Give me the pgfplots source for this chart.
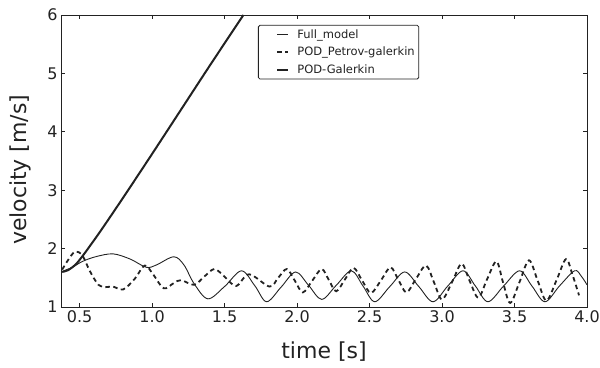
\documentclass[border=0pt]{standalone}
\usepackage{pgfplots}
\pgfplotsset{compat=1.18}
\usepackage{fontspec}
\setmainfont{DejaVu Sans}
\definecolor{ink}{HTML}{222222}
\begin{document}
\begin{tikzpicture}
\useasboundingbox (-61pt,-60pt) rectangle (539pt,307pt);
\begin{axis}[
  at={(0,0)}, anchor=south west,
  width=526pt, height=292pt, scale only axis,
  xmin=0.372, xmax=4.0, ymin=1, ymax=6,
  xtick={0.5,1.0,1.5,2.0,2.5,3.0,3.5,4.0},
  ytick={1,2,3,4,5,6},
  tick pos=both, tick align=inside,
  major tick length=4pt,
  axis line style={ink, line width=0.8pt},
  tick style={ink, line width=0.6pt},
  /pgf/number format/assume math mode=true,
  xticklabel style={/pgf/number format/.cd, fixed, fixed zerofill, precision=1},
  ticklabel style={font=\fontsize{16}{18}\selectfont, text=ink},
  xlabel={time [s]}, ylabel={velocity [m/s]},
  label style={font=\fontsize{22}{26}\selectfont, text=ink},
  xlabel style={at={(axis description cs:0.5,0)}, anchor=center, yshift=-45pt},
  ylabel style={at={(axis description cs:-0.078,0.47)}, anchor=center},
  legend cell align=left,
  legend style={at={(0.3745,0.966)}, anchor=north west, draw=ink, line width=0.8pt,
    rounded corners=1.5pt, font=\fontsize{11.5}{13}\selectfont, text=ink,
    row sep=3.5pt, inner xsep=2pt, inner ysep=2pt},
  legend image code/.code={\path (0pt,0pt) (33pt,0pt); \draw[#1] (16pt,0pt) -- (27pt,0pt);},
]
\addplot[ink, line width=0.9pt, smooth, tension=0.55] coordinates {
(0.38,1.61)(0.45,1.68)(0.52,1.78)(0.61,1.86)(0.73,1.91)(0.85,1.82)(0.96,1.68)
(1.03,1.72)(1.15,1.86)(1.22,1.72)(1.29,1.40)(1.385,1.14)(1.50,1.35)(1.617,1.62)
(1.71,1.36)(1.79,1.09)(1.89,1.34)(1.99,1.60)(2.08,1.37)(2.17,1.13)(2.27,1.37)
(2.375,1.62)(2.455,1.36)(2.536,1.09)(2.64,1.35)(2.743,1.60)(2.84,1.35)(2.938,1.09)
(3.04,1.36)(3.145,1.62)(3.23,1.36)(3.317,1.09)(3.425,1.36)(3.535,1.62)(3.62,1.36)
(3.71,1.09)(3.81,1.36)(3.914,1.62)(3.96,1.53)(4.0,1.38)
};
\addlegendentry{Full\_model}
\addplot[ink, line width=1.8pt, dash pattern=on 4.5pt off 3.5pt, smooth, tension=0.55] coordinates {
(0.38,1.64)(0.42,1.80)(0.47,1.95)(0.52,1.88)(0.57,1.62)(0.63,1.38)(0.68,1.34)
(0.73,1.35)(0.80,1.30)(0.88,1.48)(0.95,1.71)(1.01,1.55)(1.08,1.32)(1.15,1.41)
(1.20,1.46)(1.29,1.38)(1.36,1.52)(1.43,1.65)(1.50,1.52)(1.58,1.36)(1.67,1.56)
(1.81,1.35)(1.87,1.50)(1.93,1.65)(1.985,1.45)(2.04,1.25)(2.105,1.45)(2.17,1.65)
(2.22,1.46)(2.27,1.27)(2.33,1.47)(2.39,1.67)(2.45,1.45)(2.51,1.24)(2.58,1.46)
(2.645,1.68)(2.70,1.46)(2.755,1.25)(2.82,1.48)(2.89,1.71)(2.945,1.42)(3.0,1.13)
(3.07,1.43)(3.135,1.74)(3.19,1.45)(3.25,1.16)(3.31,1.47)(3.375,1.78)(3.42,1.43)
(3.47,1.07)(3.535,1.43)(3.60,1.80)(3.66,1.45)(3.72,1.11)(3.79,1.46)(3.855,1.82)
(3.90,1.55)(3.945,1.20)
};
\addlegendentry{POD\_Petrov-galerkin}
\addplot[ink, line width=2pt, smooth, tension=0.5] coordinates {
(0.38,1.60)(0.42,1.63)(0.47,1.72)(0.52,1.87)(0.57,2.04)(0.65,2.32)(0.8,2.87)
(1.0,3.62)(1.2,4.38)(1.4,5.14)(1.63,6.0)
};
\addlegendentry{POD-Galerkin}
\end{axis}
\end{tikzpicture}
\end{document}
